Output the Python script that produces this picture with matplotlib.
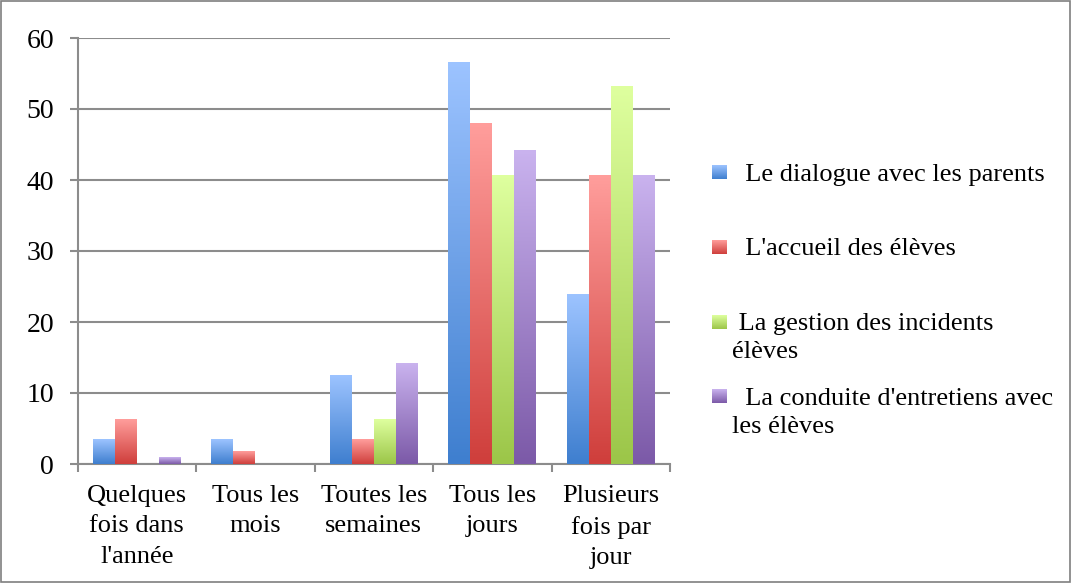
import matplotlib
matplotlib.use("Agg")
import matplotlib.pyplot as plt
import numpy as np
from matplotlib.colors import LinearSegmentedColormap
from matplotlib.patches import Rectangle

categories = ["Quelques\nfois dans\nl'année", "Tous les\nmois", "Toutes les\nsemaines",
              "Tous les\njours", "Plusieurs\nfois par\njour"]
series_names = ["  Le dialogue avec les parents", "  L'accueil des élèves",
                " La gestion des incidents\nélèves", "  La conduite d'entretiens avec\nles élèves"]
dialogue = [3.5, 3.5, 12.4, 56.6, 23.9]
accueil = [6.2, 1.8, 3.5, 47.9, 40.7]
gestion = [0.0, 0.0, 6.2, 40.7, 53.2]
entretiens = [0.85, 0.0, 14.2, 44.2, 40.7]
yticks = [0, 10, 20, 30, 40, 50, 60]

series = [dialogue, accueil, gestion, entretiens]
grad = [("#3f7fcf", "#9cc3ff"), ("#cf3f3c", "#ff9d9b"),
        ("#9cc649", "#deff9e"), ("#7c5aa8", "#c9b2ee")]
cmaps = [LinearSegmentedColormap.from_list("g%d" % s, list(grad[s])) for s in range(4)]

plt.rcParams['font.family'] = ['Liberation Serif', 'DejaVu Serif']
FS = 19
fig = plt.figure(figsize=(10.72, 5.83), dpi=100)
W, H = 1072, 583
ax = fig.add_axes([77.5 / W, 1 - 464 / H, (670 - 77.5) / W, (464 - 38) / H])

x = np.arange(len(categories))
w = 0.185
offsets = (np.arange(4) - 1.5) * w
img = np.linspace(0, 1, 64).reshape(-1, 1)
for s, vals in enumerate(series):
    bars = ax.bar(x + offsets[s], vals, w, color="none", edgecolor="none", zorder=3)
    for b in bars:
        h = b.get_height()
        if h <= 0:
            continue
        x0 = b.get_x()
        ax.imshow(img, cmap=cmaps[s], extent=(x0, x0 + b.get_width(), 0, h),
                  origin="lower", aspect="auto", zorder=3, interpolation="bilinear")

ax.set_xlim(-0.5, len(categories) - 0.5)
ax.set_ylim(0, 60)
ax.set_yticks(yticks)
ax.set_yticklabels([str(v) for v in yticks])
ax.set_xticks(np.arange(len(categories) + 1) - 0.5, minor=True)
ax.set_xticks(x)
ax.set_xticklabels(categories, linespacing=1.5)
ax.tick_params(axis="x", which="major", length=0, pad=15, labelsize=FS)
ax.tick_params(axis="x", which="minor", length=6, width=1.5, color="#8c8c8c", direction="out")
ax.tick_params(axis="y", length=6, width=1.5, color="#8c8c8c", direction="out", pad=11, labelsize=20)
ax.grid(axis="y", color="#8c8c8c", linewidth=1.5, zorder=0)
ax.set_axisbelow(True)
for sp in ["top", "right"]:
    ax.spines[sp].set_visible(False)
for sp in ["left", "bottom"]:
    ax.spines[sp].set_color("#8c8c8c")
    ax.spines[sp].set_linewidth(1.5)

# legend
baselines = [181, 255, 358, 433]
sq_top = [165, 240, 315, 389]
for s in range(4):
    sax = fig.add_axes([712 / W, 1 - (sq_top[s] + 14) / H, 15 / W, 14 / H])
    sax.imshow(img, cmap=cmaps[s], origin="lower", aspect="auto", interpolation="bilinear")
    sax.set_axis_off()
    fig.text(732 / W, 1 - baselines[s] / H, series_names[s], fontsize=FS,
             va="baseline", ha="left", linespacing=1.35)

fig.patches.append(Rectangle((0.0005, 0.001), 0.998, 0.997, transform=fig.transFigure,
                             facecolor="none", edgecolor="#7f7f7f", linewidth=1.2))
fig.savefig("out.png", dpi=100)
